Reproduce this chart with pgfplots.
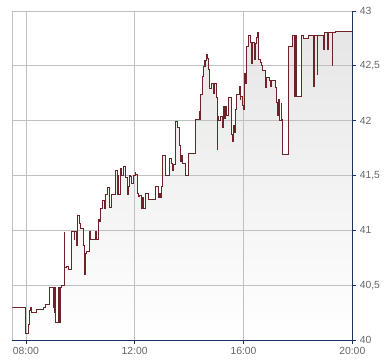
\documentclass[border=0pt]{standalone}
\usepackage{pgfplots}
\pgfplotsset{compat=1.18}
\usepackage{pgfplotstable}
\usepackage{fontspec}
\setmainfont{Liberation Sans}
\definecolor{navy}{RGB}{28,50,96}
\definecolor{gridc}{RGB}{192,192,192}
\definecolor{linec}{RGB}{110,35,40}
\definecolor{labc}{RGB}{102,102,102}
\definecolor{fillc}{RGB}{230,230,230}
\pgfplotstableread{
t v
7.50 40.30
8.00 40.06
8.10 40.14
8.14 40.27
8.17 40.30
8.20 40.25
8.38 40.28
8.66 40.30
8.73 40.32
8.85 40.48
9.01 40.30
9.02 40.48
9.04 40.25
9.06 40.48
9.08 40.16
9.20 40.48
9.23 40.16
9.28 40.48
9.31 40.50
9.40 40.98
9.42 40.66
9.48 40.67
9.55 40.64
9.68 40.99
9.77 40.92
9.80 40.99
9.85 40.86
9.90 41.14
9.98 41.06
10.01 41.02
10.12 40.86
10.17 40.60
10.19 40.79
10.22 40.81
10.32 40.99
10.38 40.92
10.57 40.99
10.61 40.92
10.65 41.10
10.70 41.08
10.75 41.20
10.81 41.27
10.90 41.20
10.94 41.33
10.98 41.39
11.08 41.21
11.13 41.33
11.28 41.48
11.31 41.55
11.35 41.33
11.39 41.50
11.41 41.33
11.46 41.52
11.49 41.56
11.53 41.50
11.57 41.58
11.67 41.48
11.72 41.33
11.78 41.40
11.79 41.50
11.85 41.49
11.87 41.43
11.90 41.43
11.96 41.50
12.01 41.53
12.03 41.51
12.09 41.34
12.14 41.31
12.19 41.32
12.23 41.28
12.26 41.20
12.30 41.30
12.34 41.20
12.41 41.34
12.49 41.28
12.75 41.40
12.86 41.30
12.90 41.34
12.94 41.30
12.98 41.40
13.02 41.68
13.12 41.50
13.29 41.66
13.35 41.61
13.39 41.55
13.41 41.60
13.50 41.99
13.56 41.94
13.65 41.77
13.67 41.72
13.69 41.63
13.72 41.68
13.76 41.61
13.88 41.50
13.98 41.70
14.25 42.01
14.37 42.08
14.39 42.01
14.43 42.24
14.48 42.40
14.51 42.49
14.55 42.55
14.57 42.49
14.59 42.55
14.64 42.60
14.68 42.57
14.70 42.47
14.73 42.44
14.76 42.29
14.81 42.34
14.91 42.25
14.95 42.34
14.99 42.21
15.04 41.74
15.05 42.04
15.09 42.00
15.14 42.04
15.21 41.94
15.26 42.13
15.30 42.02
15.35 42.13
15.39 42.05
15.43 42.21
15.56 41.87
15.59 41.81
15.64 41.96
15.68 41.89
15.70 42.10
15.74 42.24
15.84 42.31
15.87 42.19
15.90 42.22
15.95 42.14
15.99 42.10
16.02 42.31
16.05 42.43
16.08 42.34
16.12 42.68
16.20 42.78
16.24 42.71
16.30 42.52
16.32 42.71
16.39 42.56
16.44 42.70
16.47 42.76
16.51 42.80
16.56 42.56
16.61 42.53
16.66 42.50
16.69 42.46
16.81 42.30
16.83 42.39
16.96 42.37
17.00 42.31
17.04 42.37
17.16 42.30
17.20 42.17
17.25 42.05
17.28 42.19
17.32 42.00
17.39 42.16
17.41 42.01
17.44 41.69
17.64 42.68
17.79 42.78
17.89 42.22
17.91 42.78
17.95 42.22
18.14 42.78
18.20 42.75
18.38 42.78
18.58 42.31
18.60 42.78
18.71 42.42
18.73 42.78
18.93 42.65
18.99 42.80
19.09 42.65
19.14 42.80
19.26 42.50
19.28 42.80
19.39 42.81
20.00 42.81
}\data
\begin{document}
\begin{tikzpicture}
\begin{axis}[
  set layers,
  scale only axis, width=340bp, height=329bp,
  xmin=7.5, xmax=20, ymin=40, ymax=43,
  axis x line*=bottom, axis y line*=right,
  axis line style={navy, line width=0.8bp, -},
  xtick={8,12,16,20}, xticklabels={08:00,12:00,16:00,20:00},
  ytick={40,40.5,41,41.5,42,42.5,43},
  yticklabels={40,{40,5},41,{41,5},42,{42,5},43},
  tick align=outside, major tick length=4bp,
  tick style={navy, line width=0.8bp},
  grid=major, grid style={gridc, line width=0.8bp},
  ticklabel style={font=\fontsize{10.4}{12}\selectfont, text=labc},
  /pgf/number format/assume math mode=true,
]
\addplot[on layer=axis background, const plot, draw=none, shade, top color=fillc, bottom color=white] table[x=t,y=v]{\data} \closedcycle;
\addplot[const plot, linec, line width=0.9bp, mark=none] table[x=t,y=v]{\data};
\pgfonlayer{axis grid}
\draw[gridc, line width=0.8bp] (rel axis cs:0,0) -- (rel axis cs:0,1) -- (rel axis cs:1,1);
\endpgfonlayer
\coordinate (ll) at (rel axis cs:0,0);
\end{axis}
\path (ll) ++(-12.3bp,-24bp) rectangle ++(390bp,364bp);
\end{tikzpicture}
\end{document}
